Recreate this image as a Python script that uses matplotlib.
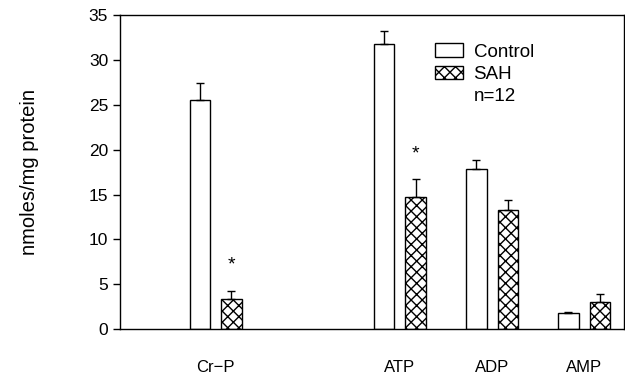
import numpy as np
import matplotlib.pyplot as plt
from matplotlib.patches import Patch

plt.rcParams['font.family'] = ['Liberation Sans', 'DejaVu Sans']

categories = ['Cr\u2212P', 'ATP', 'ADP', 'AMP']
positions = [0, 2, 3, 4]
control = [25.5, 31.8, 17.9, 1.75]
control_err = [1.9, 1.4, 1.0, 0.15]
sah = [3.3, 14.7, 13.3, 3.0]
sah_err = [1.0, 2.0, 1.1, 0.9]
significant = [True, True, False, False]

fig = plt.figure(figsize=(6.25, 3.8), dpi=100)
ax = fig.add_axes([0.192, 0.134, 0.806, 0.826])

x = np.array(positions, dtype=float)
w = 0.22
off = 0.17

ax.bar(x - off, control, width=w, facecolor='white', edgecolor='black', linewidth=1.0)
ax.bar(x + off, sah, width=w, facecolor='white', edgecolor='black', linewidth=1.0, hatch='xxx')
ax.errorbar(x - off, control, yerr=[np.zeros(len(x)), control_err], fmt='none',
            ecolor='black', elinewidth=1.0, capsize=3, capthick=1.0)
ax.errorbar(x + off, sah, yerr=[np.zeros(len(x)), sah_err], fmt='none',
            ecolor='black', elinewidth=1.0, capsize=3, capthick=1.0)

for xi, v, e, s in zip(x, sah, sah_err, significant):
    if s:
        ax.annotate('*', (xi + off, v + e), xytext=(0, 12), textcoords='offset points',
                    ha='center', va='bottom', fontsize=14)

ax.set_xlim(-1.04, 4.43)
ax.set_ylim(0, 35)
ax.set_yticks(range(0, 36, 5))
ax.tick_params(axis='y', direction='out', length=5, width=1, labelsize=12.5)
ax.set_xticks(x)
ax.set_xticklabels(categories, fontsize=12)
ax.tick_params(axis='x', length=0, pad=22)
ax.set_ylabel('nmoles/mg protein', fontsize=14.5, labelpad=36)
for sp in ax.spines.values():
    sp.set_linewidth(1.0)

handles = [Patch(facecolor='white', edgecolor='black'),
           Patch(facecolor='white', edgecolor='black', hatch='xxx'),
           Patch(facecolor='none', edgecolor='none')]
ax.legend(handles, ['Control', 'SAH', 'n=12'], loc='upper left', bbox_to_anchor=(0.607, 0.94),
          frameon=False, fontsize=13.5, handlelength=1.5, handleheight=0.75,
          handletextpad=0.55, labelspacing=0.25, borderpad=0)

fig.savefig('out.png', dpi=100)
